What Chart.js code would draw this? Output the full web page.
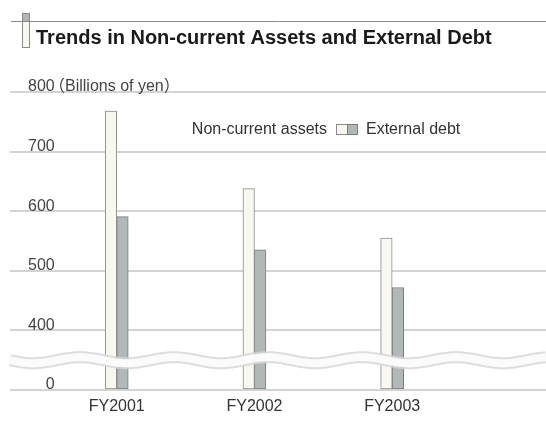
<!DOCTYPE html>
<html>
<head>
<meta charset="utf-8">
<script src="https://cdn.jsdelivr.net/npm/chart.js@4.4.1/dist/chart.umd.min.js"></script>
<style>
  body { margin: 0; background: #fff; }
  #wrap { width: 546px; height: 421px; position: relative; }
</style>
</head>
<body>
<div id="wrap"><canvas id="debt-chart"></canvas></div>
<script>
// --- данные ---
const fiscalYears = ['FY2001', 'FY2002', 'FY2003'];
const nonCurrentAssets = [768, 638, 555];
const externalDebt = [591, 535, 472];
const yTickValues = [300, 400, 500, 600, 700, 800];
const yTickLabels = ['0', '400', '500', '600', '700', '800'];
const axisBreak = 300;      // значение, которое на оси подписано как "0"
const unitLabel = '（Billions of yen）';
const chartTitle = 'Trends in Non-current Assets and External Debt';

const FONT = "'Liberation Sans', Arial, 'Noto Sans CJK JP', sans-serif";

// заголовок с маркером и линией
const titlePlugin = {
    id: 'titleDeco',
    beforeDraw(chart) {
        const c = chart.ctx;
        c.save();
        c.strokeStyle = '#8a8a8a';
        c.lineWidth = 1;
        c.beginPath();
        c.moveTo(11, 21.5);
        c.lineTo(546, 21.5);
        c.stroke();
        c.fillStyle = '#b1b6b6';
        c.fillRect(22, 13, 8, 8);
        c.strokeRect(22.5, 13.5, 7, 8);
        c.fillStyle = '#f8f8f0';
        c.fillRect(22, 21, 8, 26);
        c.strokeRect(22.5, 21.5, 7, 26);
        c.fillStyle = '#1a1a1a';
        c.font = 'bold 20px ' + FONT;
        c.textBaseline = 'alphabetic';
        c.fillText(chartTitle, 36, 44);
        c.restore();
    }
};

// подпись единиц и легенда
const extrasPlugin = {
    id: 'extras',
    afterDraw(chart) {
        const c = chart.ctx;
        const y = chart.scales.y;
        c.save();
        c.font = '16px ' + FONT;
        c.fillStyle = '#444';
        c.textBaseline = 'middle';
        c.textAlign = 'left';
        c.fillText(unitLabel, 49, y.getPixelForValue(800) - 5);

        const ds = chart.data.datasets;
        c.fillStyle = '#333';
        c.textAlign = 'right';
        c.fillText(ds[0].label, 327, 130);
        c.textAlign = 'left';
        c.fillText(ds[1].label, 366, 130);
        c.lineWidth = 1;
        c.fillStyle = ds[0].backgroundColor;
        c.fillRect(336, 124, 11, 11);
        c.strokeStyle = ds[0].borderColor;
        c.strokeRect(336.5, 124.5, 11, 10);
        c.fillStyle = ds[1].backgroundColor;
        c.fillRect(347, 124, 11, 11);
        c.strokeStyle = ds[1].borderColor;
        c.strokeRect(347.5, 124.5, 10, 10);
        c.restore();
    }
};

// волнистый разрыв оси
const breakPlugin = {
    id: 'axisBreakWave',
    afterDatasetsDraw(chart) {
        const c = chart.ctx;
        const area = chart.chartArea;
        const yc = chart.scales.y.getPixelForValue(350);
        const wave = () => {
            c.beginPath();
            for (let x = area.left; x <= area.right; x += 2) {
                const yy = yc - 3 * Math.cos(2 * Math.PI * (x - 80) / 94);
                if (x === area.left) c.moveTo(x, yy); else c.lineTo(x, yy);
            }
            c.stroke();
        };
        c.save();
        c.strokeStyle = 'rgba(215,215,215,0.85)';
        c.lineWidth = 12;
        wave();
        c.strokeStyle = 'rgba(255,255,255,0.9)';
        c.lineWidth = 8;
        wave();
        c.restore();
    }
};

const ctx = document.getElementById('debt-chart').getContext('2d');
const debtChart = new Chart(ctx, {
    type: 'bar',
    data: {
        datasets: [{
            label: 'Non-current assets',
            data: fiscalYears.map((_, i) => ({ x: i + 1, y: nonCurrentAssets[i] })),
            backgroundColor: '#f8f8f0',
            borderColor: '#8c8c8c',
            borderWidth: 1,
            borderSkipped: false,
            barThickness: 11.5,
            base: axisBreak
        }, {
            label: 'External debt',
            data: fiscalYears.map((_, i) => ({ x: i + 1, y: externalDebt[i] })),
            backgroundColor: '#b2b7b7',
            borderColor: '#7c7c7c',
            borderWidth: 1,
            borderSkipped: false,
            barThickness: 11.5,
            base: axisBreak
        }]
    },
    options: {
        responsive: true,
        maintainAspectRatio: false,
        animation: false,
        layout: { padding: { top: 92, left: 10, right: 0, bottom: 1 } },
        plugins: {
            legend: { display: false },
            tooltip: { enabled: false }
        },
        scales: {
            x: {
                type: 'linear',
                offset: false,
                min: 0.225,
                max: 4.117,
                grid: { display: false, drawTicks: false },
                border: { display: false },
                afterBuildTicks: (scale) => {
                    scale.ticks = fiscalYears.map((_, i) => ({ value: i + 1 }));
                },
                afterFit: (scale) => { scale.height = 30; },
                ticks: {
                    callback: (v) => fiscalYears[v - 1],
                    font: { family: FONT, size: 16, lineHeight: 1 },
                    color: '#333',
                    padding: 9,
                    maxRotation: 0,
                    autoSkip: false
                }
            },
            y: {
                min: axisBreak,
                max: 800,
                afterBuildTicks: (scale) => {
                    scale.ticks = yTickValues.map(v => ({ value: v }));
                },
                afterFit: (scale) => { scale.width = 0; },
                grid: { color: '#d4d4d4', lineWidth: 2, drawTicks: false },
                border: { display: false },
                ticks: {
                    mirror: true,
                    crossAlign: 'far',
                    padding: 18,
                    labelOffset: -5,
                    font: { family: FONT, size: 16 },
                    color: '#444',
                    callback: (v) => yTickLabels[yTickValues.indexOf(v)]
                }
            }
        }
    },
    plugins: [titlePlugin, breakPlugin, extrasPlugin]
});
</script>
</body>
</html>
